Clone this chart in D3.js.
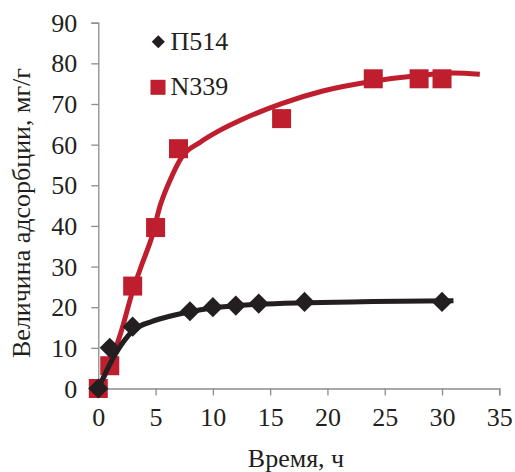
<!DOCTYPE html>
<html>
<head>
<meta charset="utf-8">
<script src="https://cdn.jsdelivr.net/npm/d3@7"></script>
</head>
<body style="margin:0">
<script>
// measured points
var timeP514 = [0, 1, 3, 8, 10, 12, 14, 18, 30];
var valP514  = [0, 10, 15.2, 19, 20, 20.4, 20.9, 21.3, 21.3];
var timeN339 = [0, 1, 3, 5, 7, 16, 24, 28, 30];
var valN339  = [0, 5.6, 25.2, 39.6, 59, 66.4, 76.2, 76.2, 76.2];

// smoothed lines
var fitTimeP514 = [0, 1.2, 2.3, 3.1, 4.7, 6.4, 8, 10, 14, 18, 24, 31];
var fitValP514  = [0, 7, 11.9, 14.4, 16.5, 17.9, 18.9, 19.8, 20.7, 21.1, 21.4, 21.6];
var fitTimeN339 = [0, 1, 2, 3, 3.8, 4.7, 5.4, 6.3, 7.3, 8.9, 10.6, 12.4, 16, 19.6, 24, 28, 31, 33.3];
var fitValN339  = [0, 6, 14, 24, 30.5, 37.5, 45, 51.5, 57, 60.6, 63.5, 66, 70.1, 73.2, 75.6, 77, 77.6, 77.3];

var xTicks = [0, 5, 10, 15, 20, 25, 30, 35];
var yTicks = [0, 10, 20, 30, 40, 50, 60, 70, 80, 90];
var seriesNames = ["П514", "N339"];

var red = "#be1e2d", dark = "#231f20", axisCol = "#8c8c8c";
var serifFont = "Liberation Serif, serif";

var x = d3.scaleLinear().domain([0, 35]).range([98.3, 499.3]);
var y = d3.scaleLinear().domain([0, 90]).range([388.5, 22.7]);

var svg = d3.select("body").append("svg")
    .attr("width", 515)
    .attr("height", 472);

// axes
var xAxis = svg.append("g")
    .attr("transform", "translate(0," + y(0) + ")")
    .call(d3.axisBottom(x).tickValues(xTicks).tickSize(7).tickPadding(12));
var yAxis = svg.append("g")
    .attr("transform", "translate(" + x(0) + ",0)")
    .call(d3.axisLeft(y).tickValues(yTicks).tickSize(7).tickPadding(14));

[xAxis, yAxis].forEach(function(g){
    g.attr("font-family", null).attr("font-size", 26);
    g.select(".domain").attr("stroke", axisCol).attr("stroke-width", 1.3);
    g.selectAll(".tick line").attr("stroke", axisCol).attr("stroke-width", 1.3);
    g.selectAll(".tick text").attr("fill", dark);
});
yAxis.selectAll(".tick text").attr("dy", "0.33em");

function addText(parent, px, py, txt){
    return parent.append("text")
        .attr("x", px).attr("y", py)
        .attr("font-size", 26)
        .attr("fill", dark)
        .text(txt);
}

// axis titles
addText(svg, 296, 466.5, "Время, ч").attr("text-anchor", "middle");
addText(svg, 0, 0, "Величина адсорбции, мг/г")
    .attr("transform", "translate(30,213) rotate(-90)")
    .attr("text-anchor", "middle");

// lines
var line = d3.line()
    .x(function(d){ return x(d[0]); })
    .y(function(d){ return y(d[1]); })
    .curve(d3.curveMonotoneX);

var fitN339 = fitTimeN339.map(function(t, i){ return [t, fitValN339[i]]; });
var fitP514 = fitTimeP514.map(function(t, i){ return [t, fitValP514[i]]; });

svg.append("path").attr("d", line(fitN339))
    .attr("fill", "none").attr("stroke", red).attr("stroke-width", 5);

// markers
var sq = 19;
svg.append("g").selectAll("rect")
    .data(timeN339.map(function(t, i){ return [t, valN339[i]]; }))
    .enter().append("rect")
    .attr("x", function(d){ return x(d[0]) - sq / 2; })
    .attr("y", function(d){ return y(d[1]) - sq / 2; })
    .attr("width", sq).attr("height", sq)
    .attr("fill", red);

svg.append("path").attr("d", line(fitP514))
    .attr("fill", "none").attr("stroke", dark).attr("stroke-width", 5);

var diamond = d3.symbol().type(d3.symbolDiamond2).size(260);
svg.append("g").selectAll("path")
    .data(timeP514.map(function(t, i){ return [t, valP514[i]]; }))
    .enter().append("path")
    .attr("d", diamond)
    .attr("transform", function(d){ return "translate(" + x(d[0]) + "," + y(d[1]) + ")"; })
    .attr("fill", dark);

// legend
var leg = svg.append("g");
leg.append("path")
    .attr("d", d3.symbol().type(d3.symbolDiamond2).size(110))
    .attr("transform", "translate(158.3,41.7)")
    .attr("fill", dark);
addText(leg, 170.5, 50, seriesNames[0]);
leg.append("rect")
    .attr("x", 158 - 7.5).attr("y", 87.3 - 7.5)
    .attr("width", 15).attr("height", 15)
    .attr("fill", red);
addText(leg, 170.5, 95, seriesNames[1]);

// serif everywhere
svg.selectAll("text").each(function(){
    this.style.setProperty("font-family", serifFont, "important");
});
</script>
</body>
</html>
